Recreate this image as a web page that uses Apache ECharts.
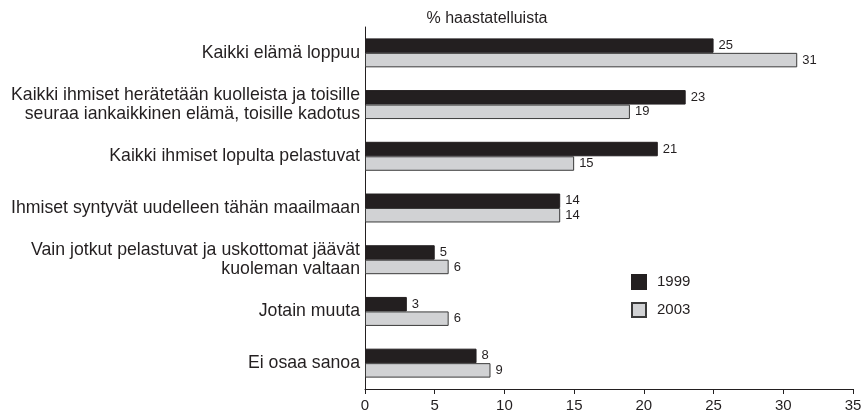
<!DOCTYPE html>
<html>
<head>
<meta charset="utf-8">
<script src="https://cdn.jsdelivr.net/npm/echarts@6/dist/echarts.min.js"></script>
<style>
  html, body { margin: 0; padding: 0; background: #fff; }
  #main { width: 866px; height: 414px; }
</style>
</head>
<body>
<div id="main"></div>
<script>
// vastausvaihtoehdot ylhäältä alas
const categories = [
  'Kaikki elämä loppuu',
  'Kaikki ihmiset herätetään kuolleista ja toisille\nseuraa iankaikkinen elämä, toisille kadotus',
  'Kaikki ihmiset lopulta pelastuvat',
  'Ihmiset syntyvät uudelleen tähän maailmaan',
  'Vain jotkut pelastuvat ja uskottomat jäävät\nkuoleman valtaan',
  'Jotain muuta',
  'Ei osaa sanoa'
];
const values1999 = [25, 23, 21, 14, 5, 3, 8];
const values2003 = [31, 19, 15, 14, 6, 6, 9];
const xTicks = [0, 5, 10, 15, 20, 25, 30, 35];

const font = 'Liberation Sans, Arial, sans-serif';
const chart = echarts.init(document.getElementById('main'));

const label = {
  show: true,
  position: 'right',
  distance: 5,
  fontFamily: font,
  fontSize: 13,
  color: '#231f20'
};

chart.setOption({
  animation: false,
  backgroundColor: '#fff',
  title: {
    text: '% haastatelluista',
    left: 482,
    textAlign: 'center',
    top: 6,
    textStyle: { fontFamily: font, fontSize: 16, fontWeight: 'normal', color: '#231f20' }
  },
  legend: {
    orient: 'vertical',
    left: 631,
    top: 274,
    padding: 0,
    icon: 'rect',
    itemWidth: 14,
    itemHeight: 14,
    itemGap: 12,
    textStyle: { fontFamily: font, fontSize: 15, color: '#231f20', padding: [0, 0, 0, 6] },
    data: ['1999', '2003']
  },
  grid: { left: 365, right: 13, top: 27, bottom: 25 },
  xAxis: {
    type: 'value',
    min: xTicks[0],
    max: xTicks[xTicks.length - 1],
    interval: 5,
    axisLine: { show: true, lineStyle: { color: '#231f20', width: 1 } },
    axisTick: { show: true, length: 5, lineStyle: { color: '#231f20' } },
    axisLabel: { fontFamily: font, fontSize: 15, color: '#231f20', margin: 9 },
    splitLine: { show: false }
  },
  yAxis: {
    type: 'category',
    inverse: true,
    data: categories,
    axisLine: { show: true, lineStyle: { color: '#231f20', width: 1 } },
    axisTick: { show: false },
    axisLabel: { fontFamily: font, fontSize: 17.7, color: '#231f20', margin: 5, lineHeight: 19, align: 'right' }
  },
  series: [
    {
      name: '1999',
      type: 'bar',
      data: values1999,
      barGap: '0%',
      barCategoryGap: '44%',
      itemStyle: { color: '#231f20', borderColor: '#231f20', borderWidth: 1 },
      label: label
    },
    {
      name: '2003',
      type: 'bar',
      data: values2003,
      itemStyle: { color: '#d1d2d4', borderColor: '#3a3a3a', borderWidth: 1 },
      label: label
    }
  ]
});
</script>
</body>
</html>
